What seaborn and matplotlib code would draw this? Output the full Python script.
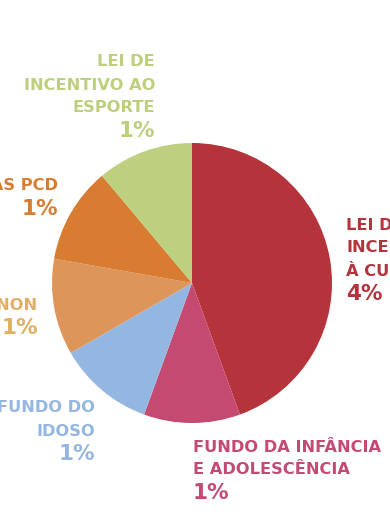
import matplotlib
matplotlib.use("Agg")
import matplotlib.pyplot as plt
import seaborn as sns

sns.set_theme(style="white")
plt.rcParams['font.family'] = ['DejaVu Sans']

categories = ["LEI DE INCENTIVO À CULTURA", "FUNDO DA INFÂNCIA E ADOLESCÊNCIA",
              "FUNDO DO IDOSO", "PRONON", "PRONAS PCD", "LEI DE INCENTIVO AO ESPORTE"]
values = [4, 1, 1, 1, 1, 1]
pct_labels = ["4%", "1%", "1%", "1%", "1%", "1%"]
label_lines = [["LEI DE", "INCENTIVO", "À CULTURA"],
               ["FUNDO DA INFÂNCIA", "E ADOLESCÊNCIA"],
               ["FUNDO DO", "IDOSO"],
               ["PRONON"],
               ["PRONAS PCD"],
               ["LEI DE", "INCENTIVO AO", "ESPORTE"]]
colors = ["#B5333A", "#C44A72", "#94B7E2", "#DE955A", "#D77C30", "#BDD07F"]
text_colors = ["#B5333A", "#C44A72", "#94B7E2", "#E2AE62", "#D77C30", "#BBCF7C"]

W, H = 390, 532
fig = plt.figure(figsize=(W / 100, H / 100), dpi=100)
ax = fig.add_axes([0, 0, 1, 1])
ax.set_xlim(0, W)
ax.set_ylim(0, H)
ax.set_aspect("equal")
ax.axis("off")

cx, cy, r = 192, H - 283, 140
ax.pie(values, colors=colors, startangle=90, counterclock=False,
       center=(cx, cy), radius=r, frame=True,
       wedgeprops=dict(linewidth=0))
ax.set_xlim(0, W)
ax.set_ylim(0, H)
ax.axis("off")

# (anchor x, first line y from top, alignment)
anchors = [(346, 225, "left"), (193, 447, "left"), (95, 408, "right"),
           (38, 305, "right"), (58, 186, "right"), (155, 62, "right")]
step = 23
for lines, pct, col, (x, y0, ha) in zip(label_lines, pct_labels, text_colors, anchors):
    for i, ln in enumerate(lines):
        ax.text(x, H - (y0 + i * step), ln, ha=ha, va="center", color=col,
                fontsize=11.7, fontweight="bold")
    ax.text(x, H - (y0 + len(lines) * step), pct, ha=ha, va="center", color=col,
            fontsize=15.5, fontweight="bold")

fig.savefig("out.png", dpi=100)
